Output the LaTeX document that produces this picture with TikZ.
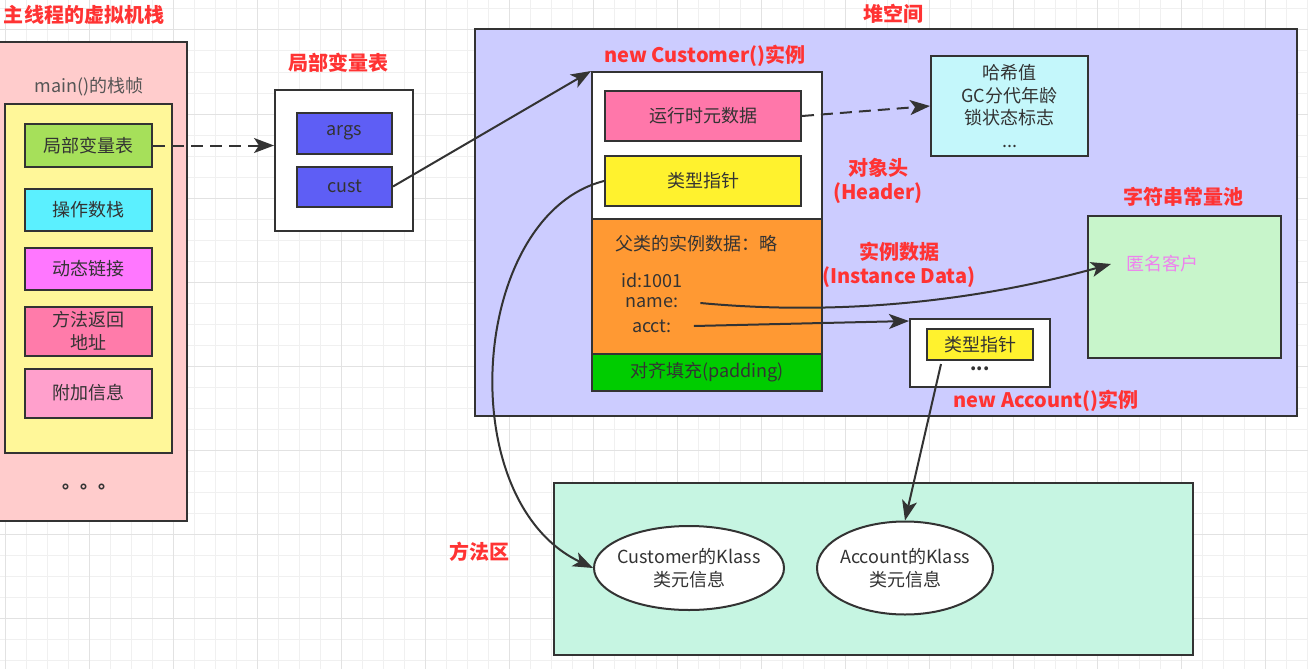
\documentclass[tikz,border=0pt]{standalone}
\usepackage{fontspec}
\setmainfont{Noto Sans CJK SC}
\usetikzlibrary{arrows.meta,calc,shapes.geometric}
\definecolor{ink}{HTML}{333333}
\definecolor{soft}{HTML}{555555}
\definecolor{edge}{HTML}{333333}
\definecolor{hot}{HTML}{FF3333}
\definecolor{gridmin}{HTML}{F0F0F0}
\definecolor{gridmaj}{HTML}{E2E2E2}
\definecolor{stackbg}{HTML}{FFCCCC}
\definecolor{framebg}{HTML}{FFF799}
\definecolor{lvtbg}{HTML}{A6E05A}
\definecolor{opsbg}{HTML}{5BF0FF}
\definecolor{dynbg}{HTML}{FF77FF}
\definecolor{retbg}{HTML}{FF7BAA}
\definecolor{addbg}{HTML}{FFA0CC}
\definecolor{slotbg}{HTML}{5E5EF5}
\definecolor{heapbg}{HTML}{CCCCFF}
\definecolor{rtbg}{HTML}{FF77AA}
\definecolor{kpbg}{HTML}{FFF22E}
\definecolor{databg}{HTML}{FF9933}
\definecolor{padbg}{HTML}{00CC00}
\definecolor{metabg}{HTML}{C4F7FB}
\definecolor{poolbg}{HTML}{C8F5CB}
\definecolor{methbg}{HTML}{C6F5E2}
\definecolor{anon}{HTML}{EE82EE}
\tikzset{px/.style={x=1pt,y=-1pt,line width=2pt,text=ink,font=\fontsize{18}{22.5}\selectfont},
  bx/.style={draw=edge,line width=2pt,inner sep=0pt,align=center},
  sz/.style 2 args={minimum width=#1pt,minimum height=#2pt},
  tx/.style={inner sep=2pt,align=center},
  hd/.style={text=hot,inner sep=2pt,align=center,font=\fontsize{20}{24}\selectfont\bfseries},
  lk/.style={draw=edge,line width=2pt,-{Stealth[length=20pt,width=15pt,inset=5pt]}},
  dsh/.style={dash pattern=on 12pt off 7pt},
  gmin/.style={draw=gridmin,line width=1pt},
  gmaj/.style={draw=gridmaj,line width=1pt}}

\begin{document}
\begin{tikzpicture}[px]
  \useasboundingbox (0,0) rectangle (1308,669);
  \fill[white] (0,0) rectangle (1308,669);
  % grid
  \foreach \i in {0,...,62}{\draw[gmin] (5+21*\i,0) -- (5+21*\i,669);}
  \foreach \j in {0,...,31}{\draw[gmin] (0,9+21*\j) -- (1308,9+21*\j);}
  \foreach \i in {0,...,15}{\draw[gmaj] (5+84*\i,0) -- (5+84*\i,669);}
  \foreach \j in {0,...,7}{\draw[gmaj] (0,30+84*\j) -- (1308,30+84*\j);}

  % thread stack
  \node[bx,sz={192}{479},fill=stackbg] (stack) at (91,281.5) {};
  \node[hd] (stackT) at (84,15) {主线程的虚拟机栈};
  \node[tx,text=soft] (frameT) at (89,87) {main()的栈帧};
  \node[bx,sz={167}{349},fill=framebg] (frame) at (88.5,278.5) {};
  \node[bx,sz={127}{43},fill=lvtbg] (lvt) at (88.5,145.5) {局部变量表};
  \node[bx,sz={127}{42},fill=opsbg] (ops) at (88.5,210) {操作数栈};
  \node[bx,sz={127}{42},fill=dynbg] (dyn) at (88.5,269) {动态链接};
  \node[bx,sz={127}{49},fill=retbg] (ret) at (88.5,331) {方法返回\\地址};
  \node[bx,sz={127}{49},fill=addbg] (add) at (88.5,393) {附加信息};
  \node[tx,font=\fontsize{18}{22.5}\selectfont\bfseries] (dots) at (89,487) {。。。};

  % local variable table
  \node[hd] (lvtabT) at (338,63) {局部变量表};
  \node[bx,sz={138}{141},fill=white] (lvtab) at (344,160.5) {};
  \node[bx,sz={95}{41},fill=slotbg] (args) at (344.5,133) {args};
  \node[bx,sz={95}{40},fill=slotbg] (cust) at (344.5,186.5) {cust};

  % heap
  \node[bx,sz={822}{387},fill=heapbg] (heap) at (886,222.5) {};
  \node[hd] (heapT) at (893,14) {堆空间};
  \node[hd] (cobjT) at (705,56) {new Customer()实例};
  \node[bx,sz={230}{147},fill=white] (cobj) at (707,145.5) {};
  \node[bx,sz={196}{50},fill=rtbg] (rt) at (703,116) {运行时元数据};
  \node[bx,sz={196}{50},fill=kpbg] (kp) at (703,181) {类型指针};
  \node[bx,sz={230}{135},fill=databg] (cdat) at (707,286.5) {};
  \node[tx] (superT) at (696,244) {父类的实例数据：略};
  \node[tx] (idT) at (652,280) {id:1001};
  \node[tx] (nameT) at (652,303) {name:};
  \node[tx] (acctT) at (652,326) {acct:};
  \node[bx,sz={230}{37},fill=padbg] (cpad) at (707,372.5) {对齐填充(padding)};
  \node[hd] (hdrT) at (878,181) {对象头\\(Header)};
  \node[hd] (instT) at (899,264.5) {实例数据\\(Instance Data)};
  \node[bx,sz={157}{99},fill=metabg] (meta) at (1009.5,106) {哈希值\\GC分代年龄\\锁状态标志\\...};
  \node[hd] (poolT) at (1183.5,197) {字符串常量池};
  \node[bx,sz={193}{142},fill=poolbg] (pool) at (1184.5,287) {};
  \node[tx,text=anon] (anon) at (1162,264) {匿名客户};
  \node[bx,sz={140}{68},fill=white] (acc) at (980,353) {};
  \node[bx,sz={106}{31},fill=kpbg] (kp2) at (980,344.5) {类型指针};
  \node[tx,font=\fontsize{18}{22.5}\selectfont\bfseries] (accdots) at (980,369) {...};
  \node[hd] (accT) at (1046,401) {new Account()实例};

  % method area
  \node[bx,sz={639}{172},fill=methbg] (meth) at (873.5,569) {};
  \node[hd] (methT) at (479,552) {方法区};
  \node[bx,ellipse,inner xsep=-12pt,sz={190}{84},fill=white] (ckl) at (689,568) {Customer的Klass\\类元信息};
  \node[bx,ellipse,inner xsep=-12pt,sz={176}{93},fill=white] (akl) at (905,568) {Account的Klass\\类元信息};

  % references
  \draw[lk,dsh] (lvt.east) -- (lvt.east -| lvtab.west);
  \draw[lk] (cust.east) -- (cobj.north west);
  \draw[lk,dsh] (rt.east) -- (meta.west);
  \draw[lk] ($(nameT.east)+(19,0)$) .. controls (860,318) and (1000,295) .. ($(anon.west)+(-12,0)$);
  \draw[lk] ($(acctT.east)+(19,0)$) -- ($(acc.north west)+(0,3)$);
  \draw[lk] (kp.west) .. controls (470,215) and (450,500) .. (ckl.west);
  \draw[lk] ($(kp2.south west)+(15,3)$) -- (akl.north);
\end{tikzpicture}
\end{document}
